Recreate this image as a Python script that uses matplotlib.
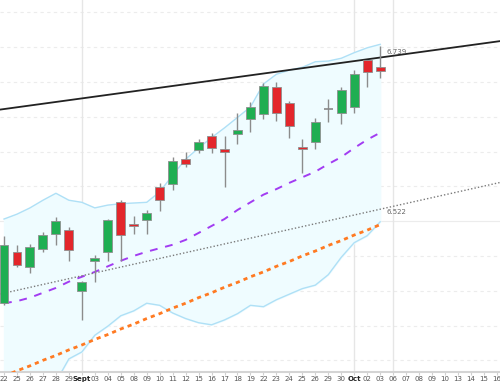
import matplotlib.pyplot as plt
import numpy as np

# trading days on the x axis (Aug 22 .. Oct 16)
day_labels = ['22', '25', '26', '27', '28', '29', 'Sept', '03', '04', '05',
              '08', '09', '10', '11', '12', '15', '16', '17', '18', '19',
              '22', '23', '24', '25', '26', '29', '30', 'Oct', '02', '03',
              '06', '07', '08', '09', '10', '13', '14', '15', '16']
month_labels = ['Sept', 'Oct']
grid_days = [6, 27, 30]  # Sept, Oct, Oct 06

# daily candles, Aug 22 .. Oct 03
opens = [6.382, 6.456, 6.434, 6.460, 6.482, 6.487, 6.400, 6.443, 6.455, 6.527,
         6.496, 6.501, 6.549, 6.553, 6.589, 6.602, 6.623, 6.604, 6.625, 6.646,
         6.654, 6.692, 6.669, 6.607, 6.614, 6.661, 6.655, 6.664, 6.731, 6.722]
highs = [6.478, 6.466, 6.467, 6.485, 6.506, 6.491, 6.414, 6.451, 6.503, 6.530,
         6.507, 6.516, 6.555, 6.592, 6.599, 6.618, 6.626, 6.623, 6.656, 6.671,
         6.698, 6.700, 6.672, 6.618, 6.648, 6.676, 6.692, 6.717, 6.732, 6.751]
lows = [6.380, 6.434, 6.426, 6.456, 6.465, 6.443, 6.358, 6.413, 6.443, 6.442,
        6.481, 6.481, 6.515, 6.545, 6.578, 6.598, 6.598, 6.549, 6.611, 6.628,
        6.647, 6.644, 6.620, 6.569, 6.603, 6.643, 6.640, 6.655, 6.692, 6.705]
closes = [6.466, 6.437, 6.463, 6.480, 6.500, 6.458, 6.413, 6.447, 6.501, 6.480,
          6.493, 6.511, 6.530, 6.587, 6.582, 6.614, 6.605, 6.600, 6.631, 6.664,
          6.694, 6.656, 6.637, 6.604, 6.643, 6.661, 6.688, 6.711, 6.714, 6.715]

# bollinger bands
bb_upper = [6.503, 6.510, 6.519, 6.530, 6.540, 6.530, 6.527, 6.519, 6.523, 6.525,
            6.526, 6.527, 6.542, 6.566, 6.589, 6.605, 6.620, 6.634, 6.649, 6.664,
            6.697, 6.711, 6.717, 6.721, 6.729, 6.730, 6.734, 6.742, 6.749, 6.754]
bb_lower = [6.260, 6.255, 6.250, 6.255, 6.269, 6.302, 6.312, 6.336, 6.349, 6.364,
            6.371, 6.382, 6.379, 6.368, 6.360, 6.354, 6.351, 6.358, 6.367, 6.379,
            6.377, 6.387, 6.395, 6.403, 6.408, 6.423, 6.448, 6.469, 6.479, 6.499]

# moving averages
ma_short = [6.382, 6.385, 6.390, 6.397, 6.404, 6.413, 6.420, 6.427, 6.435, 6.443,
            6.450, 6.456, 6.461, 6.466, 6.473, 6.483, 6.493, 6.503, 6.516, 6.527,
            6.538, 6.546, 6.555, 6.563, 6.571, 6.582, 6.592, 6.605, 6.617, 6.627]
ma_long = [6.277, 6.285, 6.292, 6.300, 6.307, 6.315, 6.322, 6.330, 6.337, 6.345,
           6.352, 6.360, 6.367, 6.375, 6.382, 6.390, 6.397, 6.405, 6.412, 6.420,
           6.427, 6.435, 6.442, 6.450, 6.457, 6.465, 6.472, 6.480, 6.487, 6.495]

# trend lines (two anchor points each: day index, price)
resistance_days = [0, 38]
resistance_prices = [6.661, 6.758]
support_days = [0, 38]
support_prices = [6.3965, 6.5545]
resistance_label = '6.739'
support_label = '6.522'

x = np.arange(len(opens))
o = np.array(opens)
c = np.array(closes)
up = c >= o

fig = plt.figure(figsize=(5, 3.83), dpi=100)
ax = fig.add_axes([0, 11 / 383, 1, 372 / 383])

ax.set_xlim(-0.31, 38.24)
ax.set_ylim(6.2832, 6.8177)

# grid
for lvl in np.arange(6.30, 6.81, 0.05):
    if abs(lvl - 6.50) < 1e-6:
        ax.axhline(lvl, color='#ececec', lw=0.8, zorder=0)
    else:
        ax.axhline(lvl, color='#ececec', lw=0.8, ls=(0, (3, 3)), zorder=0)
for idx in grid_days:
    ax.axvline(idx, color='#e6e6e6', lw=1, zorder=0)

# bollinger band area
ax.fill_between(x, bb_lower, bb_upper, color='#effcff', zorder=1)
ax.plot(x, bb_upper, color='#afe0f6', lw=1, zorder=2)
ax.plot(x, bb_lower, color='#afe0f6', lw=1, zorder=2)

# moving averages and trend lines
ax.plot(x, ma_long, color='#ff7a22', lw=2, ls=(0, (1.5, 1.5)), zorder=3)
ax.plot(x, ma_short, color='#a23cf2', lw=1.4, ls=(0, (4, 4)), zorder=3)
ax.axline((support_days[0], support_prices[0]), (support_days[1], support_prices[1]),
          color='#7a7a7a', lw=1, ls=(0, (1, 1.5)), zorder=3)
ax.axline((resistance_days[0], resistance_prices[0]),
          (resistance_days[1], resistance_prices[1]),
          color='#222222', lw=1.3, zorder=3)

# candles
ax.vlines(x, lows, highs, color='#8c8c8c', lw=1, zorder=4)
body_w = 0.69
green = '#1fae52'
red = '#e3262b'
for i in range(len(x)):
    lo, hi = min(o[i], c[i]), max(o[i], c[i])
    if hi - lo < 0.0005:
        ax.hlines(o[i], x[i] - body_w / 2, x[i] + body_w / 2, color='#888888', lw=1.2, zorder=5)
        continue
    ax.bar(x[i], hi - lo, bottom=lo, width=body_w, color=green if up[i] else red,
           edgecolor='#8f8f8f', lw=0.6, zorder=5)

# trend line value labels
ax.text(29.5, 6.743, resistance_label, fontsize=5, color='#666666', va='center', ha='left')
ax.text(29.5, 6.5126, support_label, fontsize=5, color='#666666', va='center', ha='left')

# x axis
ax.set_xticks(np.arange(len(day_labels)))
ax.set_xticklabels(day_labels)
for t in ax.get_xticklabels():
    if t.get_text() in month_labels:
        t.set_fontweight('bold')
        t.set_color('#222222')
    else:
        t.set_color('#555555')
ax.tick_params(axis='x', labelsize=5, length=2, color='#d0d0d0', pad=1)
ax.set_yticks([])
for s in ['top', 'left', 'right']:
    ax.spines[s].set_visible(False)
ax.spines['bottom'].set_color('#d4d4d4')
ax.spines['bottom'].set_linewidth(1.5)

fig.savefig('out.png', dpi=100)
